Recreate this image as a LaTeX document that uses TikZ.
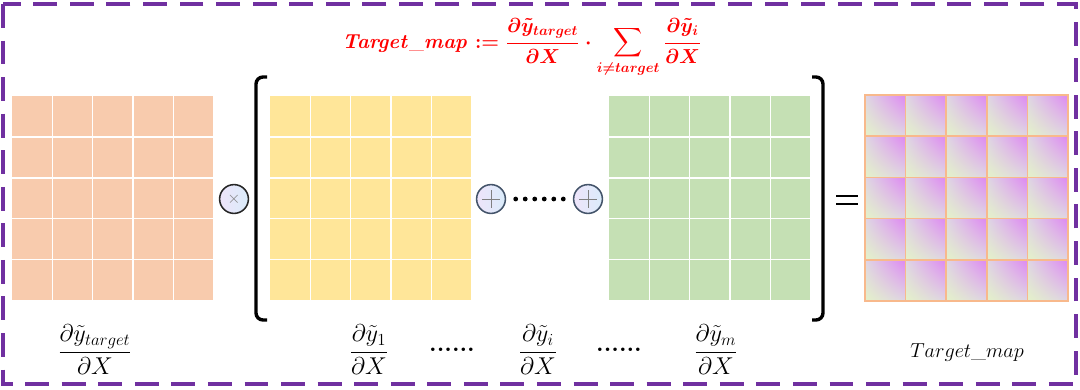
\documentclass[tikz,border=0pt]{standalone}
\usepackage{amsmath}
\usetikzlibrary{positioning, calc, shadings}

\definecolor{cellorange}{RGB}{248,203,173}
\definecolor{cellyellow}{RGB}{255,230,153}
\definecolor{cellgreen}{RGB}{197,224,180}
\definecolor{frameviolet}{RGB}{112,48,160}
\definecolor{mapmagenta}{RGB}{222,135,242}
\definecolor{mapgreen}{RGB}{228,242,200}
\definecolor{mapgrey}{RGB}{222,214,228}
\definecolor{mapline}{RGB}{248,185,140}
\definecolor{oplila}{RGB}{238,228,250}
\definecolor{opblue}{RGB}{218,236,250}
\definecolor{opslate}{RGB}{68,84,106}

\newsavebox{\formulabox}

\begin{document}
\sbox{\formulabox}{\color{red}\Large\boldmath$\displaystyle \mathit{Target\_map} \mathrel{:=} \frac{\partial\tilde{y}_{target}}{\partial X}\cdot\sum_{i\neq target}\frac{\partial\tilde{y}_i}{\partial X}$}%
\begin{tikzpicture}[
    x=0.025cm, y=-0.025cm,
    matbox/.style = {rectangle, inner sep=0pt, minimum width=5.025cm, minimum height=5.1cm, anchor=north west},
    opcircle/.style = {circle, inner sep=0pt, minimum size=0.72cm, line width=1.1pt, left color=oplila, right color=opblue},
    bracket/.style = {draw, line width=2.4pt, rounded corners=5pt},
    lbl/.style = {inner sep=1pt, font=\LARGE}
]
\useasboundingbox (0,0) rectangle (1080,389);

% Frame
\draw[frameviolet, line width=2.2pt, dash pattern=on 17pt off 9pt] (3,4) rectangle (1076,384);

% Labels
\node[lbl] (lbltarget) at (95,350) {$\dfrac{\partial\tilde{y}_{target}}{\partial X}$};
\node[lbl] (lblfirst) at (369,350) {$\dfrac{\partial\tilde{y}_1}{\partial X}$};
\node[lbl] (dotsA) at (452,350) {\textbf{......}};
\node[lbl] (lbli) at (538,350) {$\dfrac{\partial\tilde{y}_i}{\partial X}$};
\node[lbl] (dotsB) at (619,350) {\textbf{......}};
\node[lbl] (lblm) at (716,350) {$\dfrac{\partial\tilde{y}_m}{\partial X}$};
\node[lbl, font=\Large] (lblmap) at (967,353) {$Target\_map$};

% Gradient matrices
\foreach \nm/\xa/\col in {dtarget/12/cellorange, dfirst/270/cellyellow, dlast/609/cellgreen} {
    \node[matbox, fill=\col] (\nm) at (\xa,96) {};
    \foreach \k in {1,...,4} {
        \draw[white, line width=1pt] ($(\nm.north west)!\k/5!(\nm.north east)$) -- ($(\nm.south west)!\k/5!(\nm.south east)$);
        \draw[white, line width=1pt] ($(\nm.north west)!\k/5!(\nm.south west)$) -- ($(\nm.north east)!\k/5!(\nm.south east)$);
    }
}

% Target map
\node[matbox, minimum width=5.075cm, minimum height=5.15cm] (tmap) at (865,95) {};
\foreach \i in {0,...,4} {
    \foreach \j in {0,...,4} {
        \shadedraw[draw=mapline, line width=1.1pt, upper right=mapmagenta, lower left=mapgreen, upper left=mapgrey, lower right=mapgrey]
            ($(tmap.north west)+(\i*40.6,\j*41.2)$) rectangle ++(40.6,41.2);
    }
}

% Operators
\node[opcircle, draw=black!85, text=gray, font=\large] (times) at (234,199) {$\times$};
\node[opcircle, draw=opslate] (plusA) at (491,199) {};
\node[opcircle, draw=opslate] (plusB) at (588,199) {};
\foreach \p in {plusA, plusB} {
    \draw[gray, line width=0.6pt] ($(\p.center)+(-9,0)$) -- ($(\p.center)+(9,0)$);
    \draw[gray, line width=0.6pt] ($(\p.center)+(0,-9)$) -- ($(\p.center)+(0,9)$);
}
\foreach \t in {1,...,6}
    \fill ($(plusA.east)!\t/7!(plusB.west)$) circle (1.7pt);

% Brackets
\draw[bracket] (267,77) -- (256,77) -- (256,320) -- (267,320);
\draw[bracket] (812,77) -- (823,77) -- (823,320) -- (812,320);

% Equals
\coordinate (equals) at (847,200);
\draw[line width=2pt] ($(equals)+(-11,-4)$) -- ($(equals)+(11,-4)$);
\draw[line width=2pt] ($(equals)+(-11,4)$) -- ($(equals)+(11,4)$);

% Formula
\node[inner sep=0pt] (formula) at (522,48) {\usebox{\formulabox}};

\end{tikzpicture}
\end{document}
